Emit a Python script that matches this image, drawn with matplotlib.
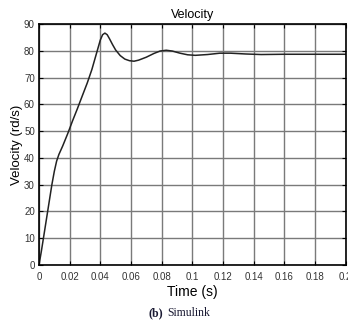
import matplotlib.pyplot as plt
import numpy as np

# values
time_s = [0, 0.0015, 0.003, 0.0057, 0.0084, 0.010, 0.0115, 0.013, 0.0155, 0.0187,
          0.022, 0.025, 0.028, 0.0315, 0.0345, 0.037, 0.038, 0.040, 0.0415, 0.043,
          0.0445, 0.046, 0.048, 0.050, 0.053, 0.056, 0.059, 0.062, 0.065, 0.070,
          0.075, 0.079, 0.083, 0.087, 0.092, 0.097, 0.102, 0.110, 0.118, 0.125,
          0.135, 0.145, 0.160, 0.200]
velocity = [0, 5, 10.4, 20.2, 30, 35, 38.8, 41.3, 44.5, 49,
            54, 58.3, 62.8, 68, 73, 78, 80, 84, 86, 86.6,
            86, 84.5, 82.3, 80.3, 78.2, 76.9, 76.3, 76.1, 76.5, 77.6,
            79, 79.9, 80.2, 79.9, 79.1, 78.5, 78.3, 78.6, 79.1, 79.1,
            78.8, 78.6, 78.7, 78.7]
xticks = [0, 0.02, 0.04, 0.06, 0.08, 0.1, 0.12, 0.14, 0.16, 0.18, 0.2]
xtick_labels = ['0', '0.02', '0.04', '0.06', '0.08', '0.1', '0.12', '0.14', '0.16', '0.18', '0.2']
yticks = [0, 10, 20, 30, 40, 50, 60, 70, 80, 90]

plt.rcParams['font.family'] = ['Liberation Sans', 'DejaVu Sans']

fig = plt.figure(figsize=(3.48, 3.25), dpi=100)
ax = fig.add_axes([39 / 348, 1 - 265 / 325, 306.5 / 348, 241 / 325])

ax.plot(time_s, velocity, color='#222222', lw=1.1)

ax.set_xlim(0, 0.2)
ax.set_ylim(0, 90)
ax.set_xticks(xticks)
ax.set_xticklabels(xtick_labels)
ax.set_yticks(yticks)
ax.grid(True, color='#7a7a7a', lw=1.0)
ax.tick_params(axis='x', pad=5)
ax.tick_params(direction='in', top=True, right=True, labelsize=7, length=3,
               labelcolor='#333333')
ax.tick_params(axis='y', pad=3)
for s in ax.spines.values():
    s.set_linewidth(1.2)

ax.set_title('Velocity', fontsize=9, pad=4)
ax.set_xlabel('Time (s)', fontsize=10, labelpad=2.5)
ax.set_ylabel('Velocity (rd/s)', fontsize=9.5, labelpad=1)

# caption below the plot
fig.text(163 / 348, 1 - 313 / 325, '(b)', fontsize=8.5, fontweight='bold',
         ha='right', va='center', family='Liberation Serif', color='#1a1a33')
fig.text(167 / 348, 1 - 313 / 325, 'Simulink', fontsize=8.5,
         ha='left', va='center', family='Liberation Serif', color='#1a1a33')

fig.savefig('out.png', dpi=100)
